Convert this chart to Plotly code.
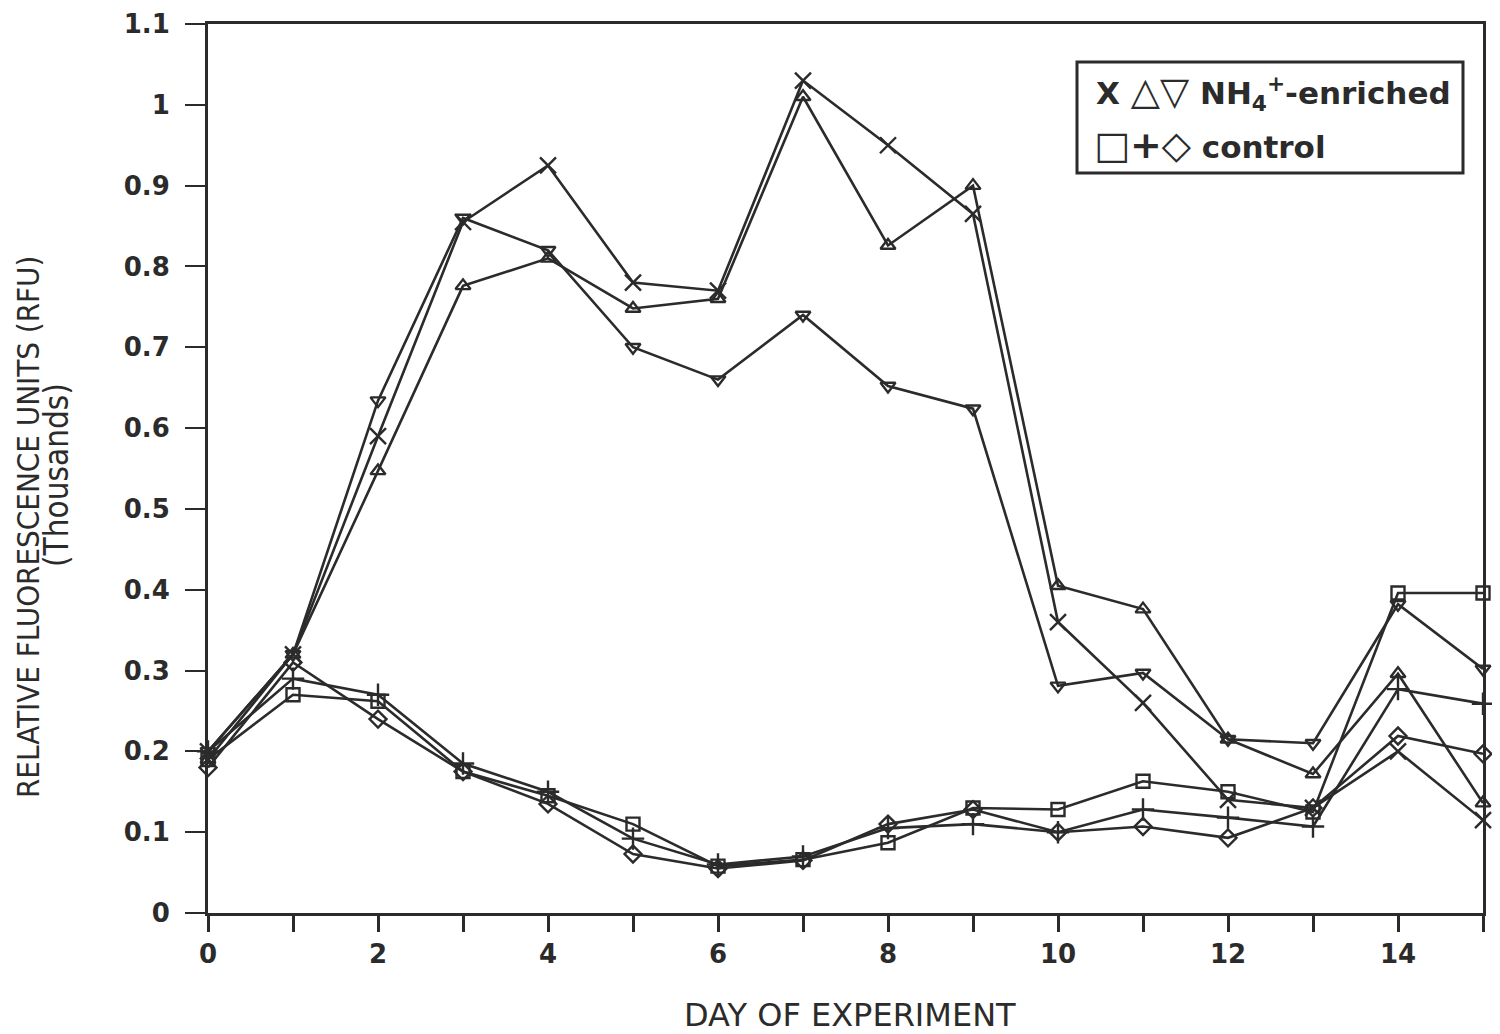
import plotly.graph_objects as go

days = list(range(16))

# NH4+-enriched series
enr_x = [0.20, 0.32, 0.59, 0.855, 0.925, 0.78, 0.77, 1.03, 0.95, 0.865, 0.36, 0.26, 0.14, 0.13, 0.20, 0.115]
enr_up = [0.19, 0.32, 0.547, 0.776, 0.81, 0.748, 0.76, 1.01, 0.826, 0.90, 0.405, 0.376, 0.215, 0.172, 0.296, 0.136]
enr_down = [0.20, 0.32, 0.634, 0.86, 0.82, 0.70, 0.66, 0.74, 0.652, 0.624, 0.281, 0.297, 0.215, 0.21, 0.382, 0.302]

# control series
ctl_square = [0.19, 0.27, 0.262, 0.175, 0.145, 0.11, 0.058, 0.066, 0.087, 0.13, 0.128, 0.163, 0.15, 0.125, 0.396, 0.396]
ctl_plus = [0.20, 0.29, 0.27, 0.185, 0.15, 0.092, 0.06, 0.07, 0.105, 0.11, 0.10, 0.128, 0.118, 0.107, 0.277, 0.259]
ctl_diamond = [0.18, 0.31, 0.24, 0.175, 0.135, 0.073, 0.055, 0.065, 0.11, 0.128, 0.10, 0.107, 0.093, 0.13, 0.219, 0.197]

x_tickvals = list(range(16))
x_ticktext = [str(d) if d % 2 == 0 else "" for d in x_tickvals]
y_tickvals = [0, 0.1, 0.2, 0.3, 0.4, 0.5, 0.6, 0.7, 0.8, 0.9, 1.0, 1.1]
y_ticktext = ["0", "0.1", "0.2", "0.3", "0.4", "0.5", "0.6", "0.7", "0.8", "0.9", "1", "1.1"]

INK = "#2b2b2b"

series = [
    (enr_x, "x-thin-open", 16),
    (enr_up, "triangle-up-open", 13),
    (enr_down, "triangle-down-open", 13),
    (ctl_square, "square-open", 13),
    (ctl_plus, "cross-thin-open", 16),
    (ctl_diamond, "diamond-open", 13),
]

fig = go.Figure()
for vals, sym, size in series:
    fig.add_trace(go.Scatter(
        x=days, y=vals, mode="lines+markers",
        line=dict(color=INK, width=2.6),
        marker=dict(symbol=sym, size=size, color=INK, line=dict(color=INK, width=2.4)),
        cliponaxis=False, showlegend=False,
    ))

tickfont = dict(family="DejaVu Sans, sans-serif", size=26, color=INK, weight="bold")

# plot area in the screenshot: x 208..1483, y 24..913 (page has an 8px body offset)
L, R, T, B = 200, 25, 16, 129
PX0, PX1, PY0, PY1 = 208, 1483, 24, 913


def px(x):
    return (x - PX0) / (PX1 - PX0)


def py(y):
    return (PY1 - y) / (PY1 - PY0)


fig.update_layout(
    width=1500, height=1034,
    margin=dict(l=L, r=R, t=T, b=B),
    paper_bgcolor="white", plot_bgcolor="white",
    xaxis=dict(
        range=[0, 15], tickvals=x_tickvals, ticktext=x_ticktext,
        ticks="outside", ticklen=16, tickwidth=3, tickcolor=INK,
        showline=True, linewidth=3, linecolor=INK, mirror=True,
        showgrid=False, zeroline=False, tickfont=tickfont,
        automargin=False,
    ),
    yaxis=dict(
        range=[0, 1.1], tickvals=y_tickvals, ticktext=y_ticktext,
        ticks="outside", ticklen=20, tickwidth=2, tickcolor=INK,
        ticklabelstandoff=10,
        showline=True, linewidth=3, linecolor=INK, mirror=True,
        showgrid=False, zeroline=False, tickfont=tickfont,
        automargin=False,
    ),
)

# axis titles
fig.add_annotation(xref="paper", yref="paper", x=px(850), y=py(1015),
                   xanchor="center", yanchor="middle", showarrow=False,
                   text="DAY OF EXPERIMENT",
                   font=dict(family="DejaVu Sans, sans-serif", size=32, color=INK))
narrow = "Liberation Sans Narrow, DejaVu Sans Condensed, Liberation Sans, sans-serif"
fig.add_annotation(xref="paper", yref="paper", x=px(28), y=py(527),
                   xanchor="center", yanchor="middle", showarrow=False, textangle=-90,
                   text="RELATIVE FLUORESCENCE UNITS (RFU)",
                   font=dict(family=narrow, size=31, color=INK))
fig.add_annotation(xref="paper", yref="paper", x=px(56), y=py(475),
                   xanchor="center", yanchor="middle", showarrow=False, textangle=-90,
                   text="(Thousands)",
                   font=dict(family=narrow, size=33, color=INK))

# legend box
fig.add_shape(type="rect", xref="paper", yref="paper",
              x0=px(1077), x1=px(1463), y0=py(173), y1=py(62),
              line=dict(color=INK, width=3), fillcolor="white")
legfont = dict(family="DejaVu Sans, sans-serif", size=31, color=INK, weight="bold")
fig.add_annotation(xref="paper", yref="paper", x=px(1094), y=py(92),
                   xanchor="left", yanchor="middle", showarrow=False,
                   text="X <span style='font-size:38px'>△▽</span> NH<sub>4</sub><sup>+</sup>-enriched",
                   font=legfont)
fig.add_annotation(xref="paper", yref="paper", x=px(1092), y=py(145),
                   xanchor="left", yanchor="middle", showarrow=False,
                   text="<span style='font-size:38px'>□+◇</span> control", font=legfont)

fig.write_html("out.html")
